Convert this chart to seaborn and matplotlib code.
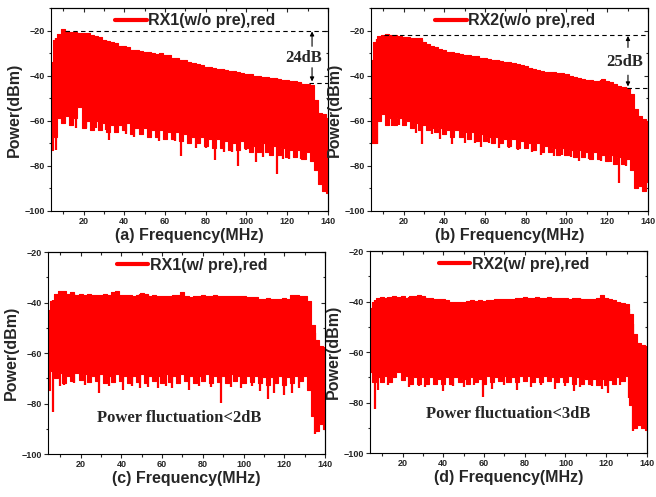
import matplotlib
matplotlib.use("Agg")
import matplotlib.pyplot as plt
from matplotlib.ticker import MultipleLocator
import numpy as np
import seaborn as sns

sns.set_theme(style="ticks")
plt.rcParams['font.family'] = ['Liberation Sans', 'DejaVu Sans']
plt.rcParams['font.weight'] = 'bold'

# frequency grid (MHz), 2 MHz steps
freq = list(range(4, 141, 2))

# ---- (a) RX1 without pre-emphasis
a_top = [-34, -24, -21.5, -19.5, -20, -20.5, -20.5, -21, -21.2, -21, -22, -22.5, -23, -24, -24.5,
         -25, -25.5, -27, -27, -27.5, -28.5, -28.5, -29, -29.5, -29.5, -30, -30.5, -30, -31, -31,
         -32, -32, -33, -33, -34, -34.5, -35, -35.5, -36, -36, -36.5, -37, -37, -37.5, -38, -38,
         -38.5, -39, -39.3, -39.5, -40, -40, -40.5, -40.5, -41, -41, -41.5, -42, -42, -42.5,
         -42.5, -43, -43.5, -43.5, -44, -51, -56.5, -57, -59]
a_bot = [-73, -67, -59, -61, -58, -62, -59, -54, -63, -60,
         -64, -60, -64, -61, -65, -62, -65, -62, -64, -61,
         -66, -63, -66, -63, -67, -64, -67, -64, -68, -65,
         -68, -65, -69, -66, -70, -67, -70, -67, -71, -68,
         -72, -68, -72, -69, -73, -70, -73, -69, -72, -74,
         -71, -74, -70, -74, -75, -71, -75, -72, -76, -73,
         -76, -73, -77, -74, -78, -82, -88, -91, -92]
a_spk_f = [6.5, 16.5, 21, 26, 31, 32.5, 36, 41, 45, 52, 57, 60, 65, 68, 72, 75, 80, 84.5, 89, 93,
           96, 100, 104.5, 108, 112, 115, 118, 121, 124, 127]
a_spk_p = [-73, -63, -63, -63, -64, -68.5, -65, -66, -67, -66, -69, -68.5, -69, -75.5, -70, -72,
           -72, -77.5, -74, -74, -80, -73, -78.5, -76, -75, -83.5, -77, -77, -76, -77]

# ---- (b) RX2 without pre-emphasis
b_top = [-33, -25, -22.5, -22, -21.7, -21.8, -22, -22.5, -23, -23, -23.5, -23.5, -23.3, -25.3,
         -26, -27, -27.5, -28, -28.6, -29.5, -29.5, -30, -30.5, -30.8, -31, -31.5, -31.5, -32,
         -32.3, -32.5, -33, -33, -33.5, -33.8, -34, -34.5, -35, -35.5, -35.7, -36.5, -37, -37.5,
         -38, -38.2, -38.5, -38.5, -39, -39, -39.3, -40, -40.5, -41, -41.5, -42, -42, -42.5,
         -42.5, -41.5, -42.5, -43, -43.5, -44.5, -45, -45.3, -48, -55, -58, -59.4, -60]
b_bot = [-70, -70, -60, -57, -62, -59, -62, -59, -62, -60,
         -63, -61, -64, -62, -64, -63, -65, -63, -66, -64,
         -67, -64, -67, -65, -68, -65, -69, -66, -69, -67,
         -70, -67, -70, -68, -71, -68, -72, -69, -72, -70,
         -73, -70, -74, -71, -74, -72, -75, -72, -75, -73,
         -76, -73, -76, -74, -77, -74, -77, -75, -78, -75,
         -79, -76, -79, -77, -82, -90, -89, -91, -87]
b_spk_f = [7, 14.5, 18, 26, 29, 34, 38, 44, 50, 55, 58, 62, 67, 72, 76, 83, 87.5, 94, 98, 102,
           106, 111, 117, 122, 126, 129]
b_spk_p = [-70.5, -62.5, -62, -65.5, -70.5, -66, -68, -70.5, -70, -70, -71.5, -70, -72, -72, -73,
           -74, -75, -75.5, -75, -76, -78, -77, -78, -78.5, -87.5, -80]

# ---- (c) RX1 with pre-emphasis
c_top = [-43, -39.5, -36.5, -35.5, -35.5, -36.5, -36, -37, -36.5, -37, -36.8, -37, -37, -37.2,
         -36.8, -37, -36, -35.5, -37, -37.2, -37, -37.5, -37, -36.2, -36.5, -37.5, -37, -37.5,
         -37.6, -37.5, -37.5, -37.2, -37, -35.8, -37.5, -38, -37.5, -37.5, -37.2, -37.5, -37.3,
         -37.2, -37.5, -37.6, -37.5, -37.5, -37.6, -37.5, -37.5, -37.8, -38, -38, -38.5, -38.5,
         -38.3, -38.5, -38.5, -38.5, -38.3, -38.5, -37, -37, -37.5, -37.5, -39.5, -49, -54.8,
         -57.4, -57.5]
c_bot = [-74.5, -67, -70, -68, -72, -69, -71, -68, -70.5, -68.5,
         -71.5, -69, -71, -68.5, -72, -69, -71.5, -68.5, -71, -69,
         -72, -69, -71.5, -68.5, -72, -69, -71, -69, -72, -68.5,
         -71.5, -69, -72, -68.5, -71, -69, -72, -69, -71, -68.5,
         -72, -69, -71.5, -69, -72, -68.5, -71, -69, -72, -69,
         -71.5, -69, -72, -69.5, -72.5, -69.5, -72, -69, -72.5, -69.5,
         -72, -69, -71, -69, -74.5, -85, -91, -88, -90]
c_spk_f = [6.4, 10, 12, 17, 22, 29, 34, 41, 45, 49, 53, 58, 62, 65, 73, 78, 84, 89, 94, 99, 104,
           108, 112, 115, 120, 124, 127, 135]
c_spk_p = [-83.4, -73, -72.6, -72, -72.5, -75.9, -73, -74.6, -73, -74, -73.5, -74, -73, -74,
           -74.5, -73, -73.5, -79.6, -73.5, -74, -73, -75, -78.3, -76, -76.5, -76, -74, -92]

# ---- (d) RX2 with pre-emphasis
d_top = [-42.6, -40, -38.7, -38.4, -38.5, -38.2, -38, -38.3, -38, -38.5, -38, -37.8, -37.4, -38,
         -38.5, -38.5, -39, -39, -39, -39.5, -40, -40, -40, -40, -39.8, -39.5, -39.8, -39.5,
         -39.7, -39.3, -39.5, -39, -39, -39, -39, -38.8, -38.5, -38.5, -38.2, -38.5, -38.5,
         -38.3, -38.5, -38.5, -38.2, -38.5, -38.5, -38.5, -38.5, -38.8, -38.5, -38.7, -38.8, -39,
         -39, -39, -38.5, -37.4, -38.5, -39, -39.5, -40, -40.5, -41, -45, -53, -56.5, -57.1, -57.5]
d_bot = [-68, -72, -70, -72, -69.5, -72, -70, -68, -71, -69.5,
         -72.5, -70, -72.5, -70, -72.5, -70, -72.5, -70.5, -72.5, -70,
         -72.5, -70, -72, -70.5, -72.5, -70, -72, -70.5, -72.5, -69.5,
         -72, -70, -71.5, -69.5, -72, -70, -72, -69.5, -71.5, -69.5,
         -72, -70, -72, -69.5, -71.5, -70, -72, -70, -72, -69.5,
         -72.5, -70, -72.5, -70.5, -72.5, -70.5, -73, -70.5, -73, -71,
         -72.5, -70, -71.5, -69.5, -81, -90, -89, -90, -91]
d_spk_f = [6.7, 8, 13, 23, 28, 31, 36, 40, 45, 50, 55, 59.6, 64, 70, 76, 83, 88, 95, 100, 104,
           107, 113, 118, 121, 127, 131, 133]
d_spk_p = [-82.4, -75, -73, -74, -73.5, -74, -73, -75.3, -73.5, -74, -73, -77.9, -74.5, -73, -75,
           -74, -73, -74.5, -73.5, -75.5, -74, -73.5, -74.5, -76.2, -73, -78.4, -91.3]

panels = [
    ("RX1(w/o pre),red", "(a) Frequency(MHz)", a_top, a_bot, a_spk_f, a_spk_p, -10),
    ("RX2(w/o pre),red", "(b) Frequency(MHz)", b_top, b_bot, b_spk_f, b_spk_p, -10),
    ("RX1(w/ pre),red", "(c) Frequency(MHz)", c_top, c_bot, c_spk_f, c_spk_p, -20),
    ("RX2(w/ pre),red", "(d) Frequency(MHz)", d_top, d_bot, d_spk_f, d_spk_p, -20),
]
positions = [
    [0.0777, 0.5755, 0.4222, 0.4085],
    [0.5655, 0.5755, 0.4222, 0.4085],
    [0.0732, 0.0865, 0.4222, 0.4064],
    [0.5640, 0.0885, 0.4222, 0.4064],
]

fig = plt.figure(figsize=(6.56, 4.97), dpi=100)
serif = ['Liberation Serif', 'DejaVu Serif']

axes = []
for (label, xlab, top, bot, spk_f, spk_p, ytop), pos in zip(panels, positions):
    ax = fig.add_axes(pos)
    axes.append(ax)
    ax.fill_between(freq, bot, top, color='red', lw=0, step='mid')
    ax.vlines(spk_f, spk_p, np.interp(spk_f, freq, top), color='red', lw=1.6)
    sns.lineplot(x=freq, y=top, ax=ax, color='red', lw=0.8, label=label, drawstyle='steps-mid')
    sns.lineplot(x=freq, y=bot, ax=ax, color='red', lw=0.8, drawstyle='steps-mid')
    ax.set_xlim(4, 140)
    ax.set_ylim(-100, ytop)
    ax.xaxis.set_major_locator(MultipleLocator(20))
    ax.xaxis.set_minor_locator(MultipleLocator(10))
    ax.yaxis.set_major_locator(MultipleLocator(20))
    ax.yaxis.set_minor_locator(MultipleLocator(10))
    ax.tick_params(which='major', direction='out', length=3, width=0.8, labelsize=6.5, pad=1.5)
    ax.tick_params(which='minor', direction='out', length=1.8, width=0.8)
    ax.set_yticks([-100, -80, -60, -40, -20])
    for lab in ax.get_xticklabels() + ax.get_yticklabels():
        lab.set_fontweight('bold')
    # inward ticks on the top and right spines
    sx = ax.secondary_xaxis('top')
    sx.xaxis.set_major_locator(MultipleLocator(20))
    sx.xaxis.set_minor_locator(MultipleLocator(10))
    sx.tick_params(which='major', direction='in', length=3, width=0.8, labeltop=False)
    sx.tick_params(which='minor', direction='in', length=1.8, width=0.8)
    sy = ax.secondary_yaxis('right')
    sy.yaxis.set_major_locator(MultipleLocator(20))
    sy.yaxis.set_minor_locator(MultipleLocator(10))
    sy.tick_params(which='major', direction='in', length=3, width=0.8, labelright=False)
    sy.tick_params(which='minor', direction='in', length=1.8, width=0.8)
    for s in list(ax.spines.values()) + [sx.spines['top'], sy.spines['right']]:
        s.set_linewidth(0.8)
        s.set_color('black')
    ax.set_xlabel(xlab, fontsize=11.5, fontweight='bold', labelpad=1)
    ax.set_ylabel("Power(dBm)", fontsize=11.5, fontweight='bold', labelpad=2)
    leg = ax.legend(loc='upper center', bbox_to_anchor=(0.52, 1.02), frameon=False,
                    fontsize=11.5, handlelength=2.0, handletextpad=0.1, borderaxespad=0.2)
    for h in leg.get_lines():
        h.set_linewidth(3)
    for t in leg.get_texts():
        t.set_fontweight('bold')

arrow = dict(arrowstyle='-|>', color='black', lw=0.8, mutation_scale=6, shrinkA=0, shrinkB=0)

# (a) 24 dB annotation
ax = axes[0]
ax.hlines(-20, 10.8, 140, colors='black', linestyles=(0, (4, 3)), lw=0.8)
ax.hlines(-43.4, 130.5, 140, colors='black', linestyles=(0, (4, 3)), lw=0.8)
ax.annotate('', xy=(132.2, -20.4), xytext=(132.2, -27), arrowprops=arrow)
ax.annotate('', xy=(132.2, -42.6), xytext=(132.2, -36.5), arrowprops=arrow)
ax.text(127.9, -32.4, '24dB', family=serif, fontsize=12, fontweight='bold',
        ha='center', va='center')

# (b) 25 dB annotation
ax = axes[1]
ax.hlines(-21.9, 10.5, 140, colors='black', linestyles=(0, (4, 3)), lw=0.8)
ax.hlines(-45.6, 129.5, 140, colors='black', linestyles=(0, (4, 3)), lw=0.8)
ax.annotate('', xy=(130.2, -22.4), xytext=(130.2, -27.5), arrowprops=arrow)
ax.annotate('', xy=(130.2, -44.8), xytext=(130.2, -39.8), arrowprops=arrow)
ax.text(128.5, -33.8, '25dB', family=serif, fontsize=12, fontweight='bold',
        ha='center', va='center')

axes[2].text(68.4, -85.6, 'Power fluctuation<2dB', family=serif, fontsize=12,
             fontweight='bold', ha='center', va='center')
axes[3].text(72, -84.5, 'Power fluctuation<3dB', family=serif, fontsize=12,
             fontweight='bold', ha='center', va='center')

fig.savefig("out.png", dpi=100)
